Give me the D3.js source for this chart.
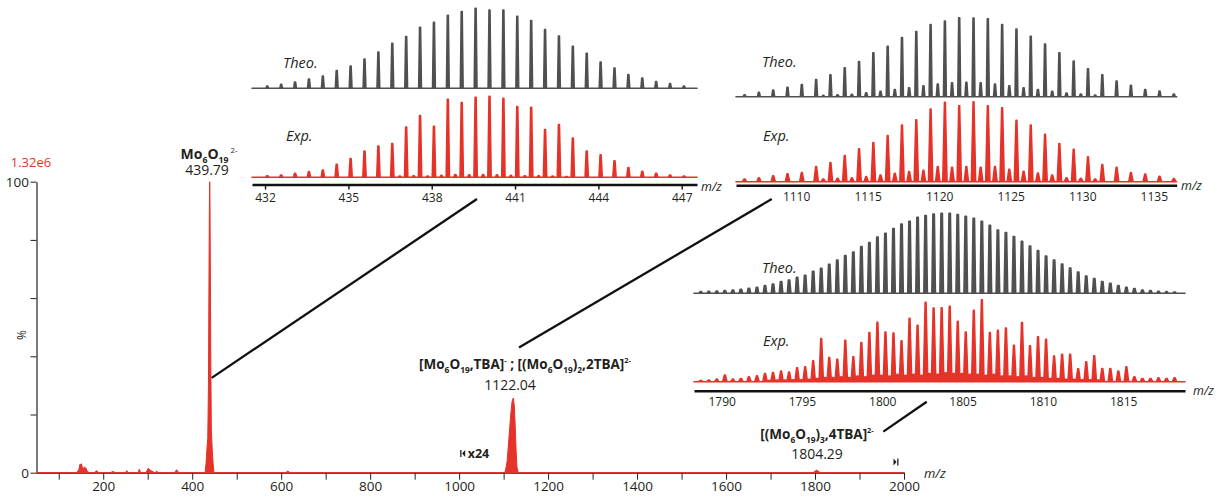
<!DOCTYPE html>
<html><head><meta charset="utf-8">
<script src="https://cdn.jsdelivr.net/npm/d3@7"></script>
<style>
body{margin:0;background:#fff}
svg{display:block}
text{font-family:'Open Sans','Noto Sans',sans-serif;fill:#231f20}
</style>
</head><body>
<svg id="c" width="1218" height="499"></svg>
<script>
// ---------------- DATA ----------------
// Full spectrum (m/z, relative intensity %), raw values; region >= 1000 is shown x24
const mainMz  = [50,140,145,148,149.5,151,154,158,161,164,168,180,185,190,215,222,228,250,253,256,278,281,284,296,301,306,316,320,324,360,365,370,
                 429,431,433,435,436.5,437.5,438.5,439.3,440,441,442,443,445,447,449,610,615,620,
                 1100,1104,1108,1112,1116,1119,1121.8,1124,1126,1128,1130,1133,1795,1800,1804.3,1809,1814,2000];
const mainInt = [0,0,1,3,2.6,3.1,1.2,2,1.5,0.6,0,0,0.7,0,0,0.4,0,0,0.7,0,0,1.2,0,0,1.5,0.8,0,0.5,0,0,1,0,
                 0,3,8,12,30,60,90,100,92,65,35,15,8,3,0,0,0.6,0,
                 0,0.02,0.17,0.5,0.83,1.02,1.07,0.96,0.67,0.33,0.08,0,0,0.02,0.04,0.01,0,0];
const magnifyFrom = 1000, magnifyFactor = 24;
const mainXTicks  = [100,200,300,400,500,600,700,800,900,1000,1100,1200,1300,1400,1500,1600,1700,1800,1900,2000];
const mainXLabels = [200,400,600,800,1000,1200,1400,1600,1800,2000];
const mainYTicks  = [0,20,40,60,80,100];
const mainYLabels = [0,100];

// Inset 1: Mo6O19 2- (439.79)
const in1Mz   = [432.08,432.58,433.08,433.58,434.08,434.58,435.08,435.58,436.08,436.58,437.08,437.58,438.08,438.58,439.08,439.58,440.08,440.58,441.08,441.58,442.08,442.58,443.08,443.58,444.08,444.58,445.08,445.58,446.08,446.58,447.08];
const in1Theo = [2.9,5,7.9,11.7,15.4,22.1,27.9,36.7,45.4,56.3,64.6,76.3,82.5,91.3,95.8,100,97.9,97.9,90,84.6,73.3,65.4,52.5,43.8,32.9,25.4,17.1,12.9,8.3,5.8,2.9];
const in1Exp  = [2,2.9,4.9,7,9,16,23,32.4,38.5,41.8,61.9,76.2,63.1,96.3,92.2,98.8,100,97.5,87.3,86.5,59,65.2,48.4,32.4,27.9,20.5,11.9,7.4,4.9,2.9,1.6];
const in1NoiseMz  = [436.85,437.35,437.85,438.35,438.85,439.35,439.85,440.35,440.85,441.35,441.85,442.35,442.85];
const in1NoiseInt = [1.5,2,1.5,2.5,3.5,3,3.5,3,2.5,2,2,1.5,1];
const in1Ticks = [432,435,438,441,444,447];

// Inset 2: [Mo6O19,TBA]- ; [(Mo6O19)2,2TBA]2- (1122.04)
const in2Mz   = [1106.4,1107.4,1108.4,1109.4,1110.4,1111.4,1112.4,1113.4,1114.4,1115.4,1116.4,1117.4,1118.4,1119.4,1120.4,1121.4,1122.4,1123.4,1124.4,1125.4,1126.4,1127.4,1128.4,1129.4,1130.4,1131.4,1132.4,1133.4,1134.4,1135.4,1136.4];
const in2Theo = [2.5,5.5,8.4,11.8,15.5,21.8,27.7,36.6,44.5,55.5,63.9,74.8,82.4,91.2,95.8,100,99.6,98.7,91.2,85.7,76.5,66.8,55.5,45,35.3,27.7,19.7,14.3,9.2,7.1,3.4];
const in2Exp  = [3.3,5,7.5,10,11.3,18.8,23.8,32.6,41,49,57.7,70.7,77.4,90.8,99.2,95,100,95,92.5,76.6,70.7,59.4,47.7,40.6,31,21.3,18,11.3,9.6,6.7,3.8];
const in2HalfMz   = [1111.9,1112.9,1113.9,1114.9,1115.9,1116.9,1117.9,1118.9,1119.9,1120.9,1121.9,1122.9,1123.9,1124.9,1125.9,1126.9,1127.9,1128.9,1129.9,1130.9];
const in2HalfTheo = [1.7,2.5,2.9,5,6.7,9.2,11.3,13.9,16,17.6,18.1,17.6,16,13.9,11.3,9.2,6.7,4.6,3.4,2.1];
const in2HalfExp  = [3.3,4.2,5,6.3,8.4,10.5,12.6,14.2,18.8,18,18.8,18,18.8,15.5,13,10.9,8.4,5,4.2,3.3];
const in2Ticks = [1110,1115,1120,1125,1130,1135];

// Inset 3: [(Mo6O19)3,4TBA]2- (1804.29)
const in3Mz   = [1788.7,1789.2,1789.7,1790.2,1790.7,1791.2,1791.7,1792.2,1792.7,1793.2,1793.7,1794.2,1794.7,1795.2,1795.7,1796.2,1796.7,1797.2,1797.7,1798.2,
                 1798.7,1799.2,1799.7,1800.2,1800.7,1801.2,1801.7,1802.2,1802.7,1803.2,1803.7,1804.2,1804.7,1805.2,1805.7,1806.2,1806.7,1807.2,1807.7,1808.2,
                 1808.7,1809.2,1809.7,1810.2,1810.7,1811.2,1811.7,1812.2,1812.7,1813.2,1813.7,1814.2,1814.7,1815.2,1815.7,1816.2,1816.7,1817.2,1817.7,1818.2];
const in3Theo = [2.1,2.5,2.9,3.3,4.2,5,6.3,7.5,9.6,11.7,14.6,16.7,20,22.5,27.5,31.3,36.3,41.7,47.1,51.7,
                 58.3,63.3,70.4,75,80.8,86.7,90,95,97.1,99.2,100,100,98.3,96.3,93.8,90,85,79.2,75.8,70.8,
                 65,59.2,53.3,46.7,41.7,36.7,31.7,26.7,21.7,18.3,14.6,12.5,9.6,7.5,5.8,4.2,3.3,2.5,2.1,1.7];
const in3Exp  = [1.6,2,3.2,8.1,3.2,4,6.1,7.3,10.1,11.3,13,11.7,17,18.2,25.5,52.6,29.6,27.5,50.6,30.4,
                 47.8,59.9,72.5,60.7,59.5,49.8,77.3,68.8,96.8,89.9,90.3,91.9,73.7,60.7,87,100,59.9,62.8,65.6,44.5,
                 72.1,43.7,54.7,51.8,31.2,33.6,33.6,15.8,24.3,31.6,16.2,16.2,13,18.2,6.1,4,4,4.9,4,4.9];
const in3NoiseMz  = [1792.95,1793.45,1793.95,1794.45,1794.95,1795.45,1795.95,1796.45,1796.95,1797.45,1797.95,1798.45,1798.95,1799.45,1799.95,1800.45,1800.95,1801.45,1801.95,1802.45,1802.95,1803.45,1803.95,1804.45,1804.95,1805.45,1805.95,1806.45,1806.95,1807.45,1807.95,1808.45,1808.95,1809.45,1809.95,1810.45,1810.95,1811.45,1811.95,1812.45,1812.95,1813.45];
const in3NoiseInt = [1.5,2,2,2.5,2.5,3,4,5,5,6,5,7,6,8,8,7,9,8,9,8,10,9,11,10,10,9,9,8,9,7,7,6,7,5,5,4,4,3,3,2.5,2.5,2];
const in3Ticks = [1790,1795,1800,1805,1810,1815];

// ---------------- DRAWING ----------------
const RED = '#e5332a', GRAY = '#505050', INK = '#231f20';
const svg = d3.select('#c');

// main scales
const x = d3.scaleLinear().domain([50, 2000]).range([36.5, 904]);
const y = d3.scaleLinear().domain([0, 100]).range([472.7, 181.7]);

const mainPts = mainMz.map((m, i) => [m, mainInt[i] * (m >= magnifyFrom ? magnifyFactor : 1)]);
svg.append('path').datum(mainPts)
  .attr('d', d3.area().x(d => x(d[0])).y0(y(0)).y1(d => y(d[1])))
  .attr('fill', RED).attr('stroke', RED).attr('stroke-width', 1).attr('stroke-linejoin', 'round');

// main axes
const gx = svg.append('g').attr('transform', `translate(0,${y(0)})`)
  .call(d3.axisBottom(x).tickValues(mainXTicks).tickSize(7).tickSizeOuter(0)
    .tickFormat(d => mainXLabels.includes(d) ? String(d) : ''));
const gy = svg.append('g').attr('transform', `translate(${x(50)},0)`)
  .call(d3.axisLeft(y).tickValues(mainYTicks).tickSize(6).tickSizeOuter(0)
    .tickFormat(d => mainYLabels.includes(d) ? String(d) : ''));
[gx, gy].forEach(g => {
  g.select('.domain').attr('stroke', INK).attr('stroke-width', 1.2);
  g.selectAll('.tick line').attr('stroke', INK).attr('stroke-width', 1);
  g.selectAll('.tick text').attr('font-size', 13.5).attr('fill', INK)
    .style('font-family', "'Open Sans',sans-serif");
});
gx.selectAll('.tick text').attr('y', 9).attr('dy', '0.71em');
gy.selectAll('.tick text').attr('dx', '0.1em').attr('dy', '0.36em');
// red baseline on top of the x-axis line
svg.append('line').attr('x1', x(50)).attr('x2', x(2000)).attr('y1', y(0)).attr('y2', y(0))
  .attr('stroke', RED).attr('stroke-width', 1.2);

svg.append('text').attr('transform', `translate(26,335) rotate(-90)`)
  .attr('text-anchor', 'middle').attr('font-size', 12).text('%');
svg.append('text').attr('x', 31).attr('y', 167).attr('text-anchor', 'middle')
  .attr('font-size', 13).style('fill', RED).text('1.32e6');
svg.append('text').attr('x', x(2000) + 20).attr('y', y(0) + 5).attr('font-size', 13)
  .attr('font-style', 'italic').text('m/z');

// magnification markers
function marker(mz, yy, dir) {
  const cx = x(mz);
  svg.append('path')
    .attr('d', dir < 0
      ? `M${cx-2.5},${yy-3.5} v7 h1.3 v-7 Z M${cx+2.5},${yy-3.5} L${cx-0.6},${yy} L${cx+2.5},${yy+3.5} Z`
      : `M${cx+2.5},${yy-3.5} v7 h-1.3 v-7 Z M${cx-2.5},${yy-3.5} L${cx+0.6},${yy} L${cx-2.5},${yy+3.5} Z`)
    .attr('fill', INK);
}
marker(1008, 453.5, -1);
svg.append('text').attr('x', x(1008) + 5).attr('y', 458).attr('font-size', 12.5)
  .attr('font-weight', 'bold').text('x24');
marker(1982, 462, 1);

// rich text helper
function rich(xx, yy, parts, size, weight) {
  const t = svg.append('text').attr('x', xx).attr('y', yy).attr('text-anchor', 'middle')
    .attr('font-size', size).attr('font-weight', weight || 'normal');
  let shift = 0;
  parts.forEach(p => {
    let target = 0, fs = size;
    if (p.s === 'sub') { target = size * 0.3; fs = size * 0.62; }
    if (p.s === 'sup') { target = -size * 0.42; fs = size * 0.55; }
    t.append('tspan').attr('dy', target - shift).attr('font-size', fs)
      .attr('font-weight', p.w || null).text(p.t);
    shift = target;
  });
}
rich(209, 159, [{t:'Mo'},{t:'6',s:'sub'},{t:'O'},{t:'19',s:'sub'},{t:' 2-',s:'sup',w:'normal'}], 14, 'bold');
rich(207, 175, [{t:'439.79'}], 14);
rich(525, 369, [{t:'[Mo'},{t:'6',s:'sub'},{t:'O'},{t:'19',s:'sub'},{t:',TBA]'},{t:'-',s:'sup'},{t:' ; [(Mo'},{t:'6',s:'sub'},
  {t:'O'},{t:'19',s:'sub'},{t:')'},{t:'2',s:'sub'},{t:',2TBA]'},{t:'2-',s:'sup'}], 13.5, 'bold');
rich(510, 390, [{t:'1122.04'}], 14);
rich(817, 439, [{t:'[(Mo'},{t:'6',s:'sub'},{t:'O'},{t:'19',s:'sub'},{t:')'},{t:'3',s:'sub'},{t:',4TBA]'},{t:'2-',s:'sup'}], 13.5, 'bold');
rich(817, 459, [{t:'1804.29'}], 14);

// ---------------- INSETS ----------------
function buildPeaks(mzs, ints, wBase, wTop, extraMz, extraInt) {
  const all = mzs.map((m, i) => [m, ints[i]]);
  if (extraMz) extraMz.forEach((m, i) => all.push([m, extraInt[i]]));
  all.sort((a, b) => a[0] - b[0]);
  const pts = [];
  all.forEach(([m, v]) => {
    pts.push([m - wBase, 0], [m - wTop, v], [m + wTop, v], [m + wBase, 0]);
  });
  return pts;
}
function spectrum(xs, base, height, pts, color, sw) {
  const sy = d3.scaleLinear().domain([0, 100]).range([base, base - height]);
  const d0 = xs.domain();
  const data = [[d0[0], 0], ...pts, [d0[1], 0]];
  svg.append('path').datum(data)
    .attr('d', d3.area().x(d => xs(d[0])).y0(base).y1(d => sy(d[1])))
    .attr('fill', color).attr('stroke', color).attr('stroke-width', sw)
    .attr('stroke-linejoin', 'round');
}
function insetAxis(xs, ay, ticks, tickLen, labelY, mzX, mzY) {
  const g = svg.append('g').attr('transform', `translate(0,${ay})`)
    .call(d3.axisBottom(xs).tickValues(ticks).tickSize(tickLen).tickSizeOuter(0)
      .tickFormat(d => String(d)));
  g.select('.domain').attr('stroke', '#111').attr('stroke-width', 2.6);
  g.selectAll('.tick line').attr('stroke', '#111').attr('stroke-width', 1.4);
  g.selectAll('.tick text').attr('y', labelY - ay).attr('dy', '0.36em').attr('font-size', 12)
    .attr('fill', INK).style('font-family', "'Open Sans',sans-serif");
  svg.append('text').attr('x', mzX).attr('y', mzY).attr('font-size', 12.5)
    .attr('font-style', 'italic').text('m/z');
}
function label(xx, yy, s) {
  svg.append('text').attr('x', xx).attr('y', yy).attr('font-size', 14.5)
    .attr('font-style', 'italic').text(s);
}

// Inset 1
const x1 = d3.scaleLinear().domain([431.53, 447.55]).range([252, 697]);
spectrum(x1, 88.3, 80, buildPeaks(in1Mz, in1Theo, 0.05, 0.018), GRAY, 1.6);
spectrum(x1, 177.3, 81, buildPeaks(in1Mz, in1Exp, 0.06, 0.018, in1NoiseMz, in1NoiseInt), RED, 1.6);
insetAxis(x1, 184.5, in1Ticks, 5, 198, 701, 191);
label(283, 68, 'Theo.');
label(286, 141, 'Exp.');

// Inset 2
const x2 = d3.scaleLinear().domain([1105.8, 1136.6]).range([736, 1176.7]);
spectrum(x2, 96.7, 79, buildPeaks(in2Mz, in2Theo, 0.1, 0.035, in2HalfMz, in2HalfTheo), GRAY, 1.6);
spectrum(x2, 181.7, 80, buildPeaks(in2Mz, in2Exp, 0.15, 0.03, in2HalfMz, in2HalfExp), RED, 1.6);
insetAxis(x2, 185.3, in2Ticks, 0, 197, 1181, 190);
label(762, 67, 'Theo.');
label(763, 141, 'Exp.');

// Inset 3
const x3 = d3.scaleLinear().domain([1788.28, 1818.85]).range([694, 1185]);
spectrum(x3, 293.3, 80, buildPeaks(in3Mz, in3Theo, 0.11, 0.045), GRAY, 1.6);
spectrum(x3, 381.7, 82, buildPeaks(in3Mz, in3Exp, 0.14, 0.03, in3NoiseMz, in3NoiseInt), RED, 1.5);
insetAxis(x3, 390.7, in3Ticks, 0, 402, 1193, 395);
label(762, 273, 'Theo.');
label(763, 346, 'Exp.');

// ---------------- CONNECTORS ----------------
const connectors = [
  {mz: 443.8,  pct: 32.6, xs: x1, to: 439.63,  ty: 199},
  {mz: 1134.6, pct: 43,   xs: x2, to: 1108.3,  ty: 199},
  {mz: 1953.5, pct: 14.1, xs: x3, to: 1802.77, ty: 401.7}
];
connectors.forEach(c => {
  svg.append('line').attr('x1', x(c.mz)).attr('y1', y(c.pct))
    .attr('x2', c.xs(c.to)).attr('y2', c.ty)
    .attr('stroke', '#111').attr('stroke-width', 2.3);
});
</script>
</body></html>
